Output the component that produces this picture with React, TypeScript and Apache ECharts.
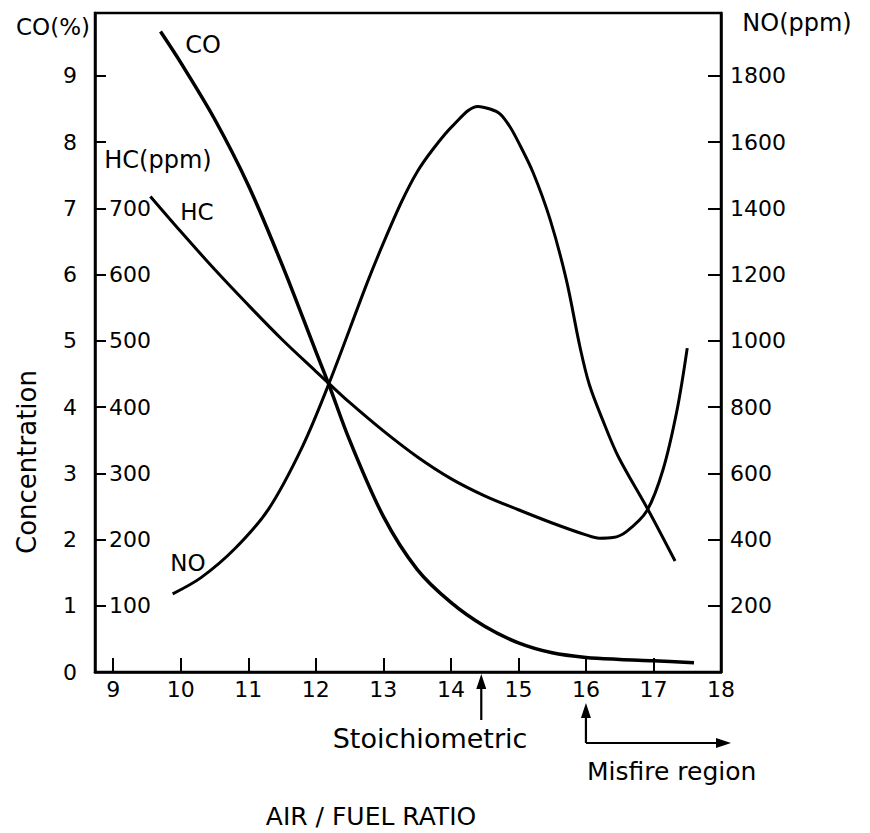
import React, { useEffect, useRef } from 'react';
import * as echarts from 'echarts';

// Air/fuel ratio tick values
const xTickValues = [9, 10, 11, 12, 13, 14, 15, 16, 17, 18];
// Left axis: CO (%)
const coTickValues = [0, 1, 2, 3, 4, 5, 6, 7, 8, 9];
// Inner left axis: HC (ppm)
const hcTickValues = [100, 200, 300, 400, 500, 600, 700];
// Right axis: NO (ppm)
const noTickValues = [200, 400, 600, 800, 1000, 1200, 1400, 1600, 1800];

// CO (%) vs air/fuel ratio
const coSeries: [number, number][] = [
  [9.7, 9.67], [10, 9.2], [10.5, 8.35], [11, 7.35], [11.5, 6.15], [12, 4.84],
  [12.2, 4.32], [12.5, 3.5], [13, 2.35], [13.5, 1.55], [14, 1.05], [14.5, 0.69],
  [15, 0.44], [15.5, 0.29], [16, 0.22], [16.5, 0.19], [17, 0.17], [17.6, 0.14],
];
// HC (ppm)
const hcSeries: [number, number][] = [
  [9.55, 718], [10, 665], [10.5, 608], [11, 554], [11.5, 502], [12, 454],
  [12.2, 435], [12.5, 407], [13, 364], [13.5, 325], [14, 292], [14.5, 266],
  [15, 245], [15.5, 225], [16, 207], [16.2, 202], [16.4, 203], [16.6, 212],
  [16.9, 243], [17.14, 305], [17.35, 396], [17.5, 489],
];
// NO (ppm)
const noSeries: [number, number][] = [
  [9.88, 236], [10.3, 285], [10.8, 372], [11.3, 492], [11.8, 680], [12.2, 874],
  [12.76, 1175], [13, 1295], [13.27, 1420], [13.5, 1510], [13.74, 1580],
  [14.03, 1650], [14.4, 1708], [14.58, 1700], [14.73, 1685], [14.87, 1648],
  [15, 1600], [15.22, 1507], [15.47, 1366], [15.71, 1184], [15.91, 983],
  [16.05, 868], [16.25, 760], [16.48, 650], [16.92, 490], [17.32, 335],
];

const stoichiometricRatio = 14.45;
const misfireStart = 16;

export default function App() {
  const ref = useRef<HTMLDivElement>(null);

  useEffect(() => {
    if (!ref.current) return;
    const chart = echarts.init(ref.current, null, { renderer: 'svg' });
    const ff = 'DejaVu Sans';
    const black = '#000';
    const lineStyle = { color: black, width: 3 };
    const smooth = 0.33;

    chart.setOption({
      animation: false,
      backgroundColor: '#fff',
      grid: {
        left: 95, right: 149, top: 13, bottom: 161,
        show: true, borderColor: black, borderWidth: 2.5, backgroundColor: 'transparent',
      },
      xAxis: {
        type: 'value', min: 8.73, max: 18,
        axisLine: { show: true, lineStyle: { color: black, width: 2.5 } },
        axisTick: { show: true, inside: true, length: 14, customValues: xTickValues, lineStyle: { color: black, width: 2 } },
        axisLabel: { customValues: xTickValues, color: black, fontSize: 22, fontFamily: ff, margin: 6, formatter: (v: number) => String(v) },
        splitLine: { show: false },
      },
      yAxis: [
        {
          type: 'value', position: 'left', min: 0, max: 9.95,
          axisLine: { show: true, lineStyle: { color: black, width: 2.5 } },
          axisTick: { show: true, inside: true, length: 11, customValues: coTickValues.slice(1), lineStyle: { color: black, width: 2 } },
          axisLabel: { customValues: coTickValues, color: black, fontSize: 22, fontFamily: ff, margin: 18, formatter: (v: number) => String(v) },
          splitLine: { show: false },
        },
        {
          type: 'value', position: 'left', min: 0, max: 995,
          axisLine: { show: false },
          axisTick: { show: false },
          axisLabel: { inside: true, customValues: hcTickValues, color: black, fontSize: 22, fontFamily: ff, margin: 14, formatter: (v: number) => String(v) },
          splitLine: { show: false },
        },
        {
          type: 'value', position: 'right', min: 0, max: 1990,
          axisLine: { show: true, lineStyle: { color: black, width: 2.5 } },
          axisTick: { show: true, inside: true, length: 13, customValues: noTickValues, lineStyle: { color: black, width: 2 } },
          axisLabel: { customValues: noTickValues, color: black, fontSize: 22, fontFamily: ff, margin: 9, formatter: (v: number) => String(v) },
          splitLine: { show: false },
        },
      ],
      series: [
        { name: 'CO', type: 'line', yAxisIndex: 0, data: coSeries, showSymbol: false, smooth, lineStyle: { ...lineStyle, width: 3.5 } },
        { name: 'HC', type: 'line', yAxisIndex: 1, data: hcSeries, showSymbol: false, smooth, lineStyle },
        { name: 'NO', type: 'line', yAxisIndex: 2, data: noSeries, showSymbol: false, smooth, lineStyle },
      ],
    });

    const sx = chart.convertToPixel({ xAxisIndex: 0 }, stoichiometricRatio) as number;
    const mx = chart.convertToPixel({ xAxisIndex: 0 }, misfireStart) as number;
    const txt = (text: string, x: number, y: number, size: number, align = 'center', rotation = 0) => ({
      type: 'text', x, y, rotation,
      style: { text, fill: black, fontSize: size, fontFamily: ff, align, verticalAlign: 'middle' },
    });
    const ln = (x1: number, y1: number, x2: number, y2: number) => ({
      type: 'line', shape: { x1, y1, x2, y2 }, style: { stroke: black, lineWidth: 2.2 },
    });
    const tri = (points: number[][]) => ({ type: 'polygon', shape: { points }, style: { fill: black } });

    chart.setOption({
      graphic: [
        txt('CO(%)', 53, 27, 23),
        txt('NO(ppm)', 797, 23, 24),
        txt('HC(ppm)', 158, 160, 24),
        txt('CO', 203, 45, 24),
        txt('HC', 197, 212, 23),
        txt('NO', 188, 563, 23),
        txt('Concentration', 27, 462, 26, 'center', Math.PI / 2),
        txt('Stoichiometric', 430, 738, 27),
        txt('Misfire region', 587, 771, 25, 'left'),
        txt('AIR / FUEL RATIO', 371, 816, 25),
        ln(sx, 720, sx, 684),
        tri([[sx, 674], [sx - 5, 689], [sx + 5, 689]]),
        ln(mx, 743, mx, 713),
        tri([[mx, 703], [mx - 5, 718], [mx + 5, 718]]),
        ln(mx, 743, 720, 743),
        tri([[731, 743], [716, 738], [716, 748]]),
      ],
    });

    return () => chart.dispose();
  }, []);

  return (
    <div
      ref={ref}
      style={{ position: 'absolute', left: 0, top: 0, width: 870, height: 833, background: '#fff' }}
    />
  );
}
